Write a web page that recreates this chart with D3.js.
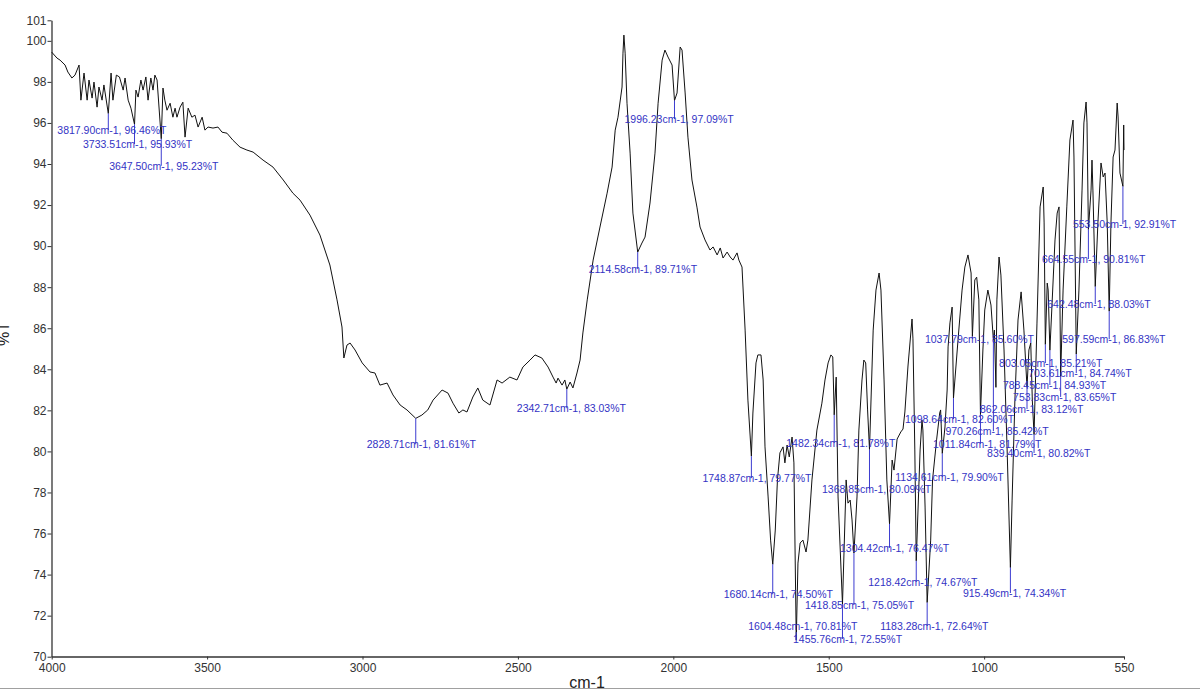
<!DOCTYPE html>
<html><head><meta charset="utf-8">
<script src="https://cdn.jsdelivr.net/npm/d3@7"></script>
<style>
body{margin:0;background:#fff}
svg{display:block}
text{font-family:"Liberation Sans", Arial, sans-serif}
</style>
</head><body>
<svg id="chart" width="1200" height="690"></svg>
<script>
// ---------- data ----------
const wavenumbers = [
4000,3983,3973,3957,3948,3935,3925,3912,3906,3896,3886,3880,3870,3864,3854,3848,3838,3832,3817.90,
3809,3803,3792,3782,3770,3764,3754,3745,3733.51,3729,3722,3713,3706,3697,3690,3681,3674,3668,3661,3647.50,
3642,3636,3629,3619,3610,3603,3597,3587,3578,3571,3561,3549,3539,3529,3516,3507,3497,3481,3465,3452,3436,
3417,3394,3372,3352,3320,3288,3255,3224,3201,3169,3137,3105,3082,3066,3060,3050,3040,3024,3001,2976,2960,
2944,2921,2902,2879,2857,2828.71,2809,2790,2773,2744,2725,2709,2690,2677,2664,2645,2629,2613,2590,2567,2551,
2526,2503,2484,2461,2445,2423,2403,2387,2377,2371,2358,2349,2342.71,2332,2323,2310,2300,2291,2277,2258,2236,
2213,2197,2187,2178,2165,2162,2159,2155,2149,2139,2130,2114.58,2101,2091,2075,2059,2049,2036,2027,2017,2004,
1996.23,1988,1978,1972,1962,1953,1940,1924,1914,1898,1882,1872,1859,1849,1840,1827,1817,1808,1795,1789,1779,
1769,1760,1748.87,1744,1734,1728,1718,1711,1705,1695,1687,1680.14,1672,1665,1657,1647,1641,1634,1627,1618,1612,
1604.48,1599,1592,1583,1573,1567,1554,1538,1522,1512,1502,1493,1487,1482.34,1476,1470,1455.76,1444,1438,1431,
1425,1418.85,1409,1403,1393,1387,1381,1375,1368.85,1357,1348,1338,1332,1322,1313,1304.42,1296,1290,1280,1268,
1261,1255,1245,1232,1229,1223,1218.42,1206,1200,1197,1190,1183.28,1172,1166,1153,1143,1140,1134.61,1126,1119,
1116,1110,1103,1098.64,1084,1071,1062,1052,1042,1037.79,1030,1024,1017,1011.84,1004,998,988,978,970.26,967,
962.06,959,952,946,936,926,915.49,910,901,891,881,872,862.06,856,850,845,839.40,830,820,810,807,803.05,797,794,
788.45,782,772,765,759,753.83,746,734,724,714,711,703.61,695,685,679,672,669,664.55,656,653,650,642.48,634,624,
617,611,604,597.59,592,585,579,572,569,563,553.50,551,550
];
const transmittance = [
99.45,99.16,99.06,98.82,98.48,98.19,98.33,98.82,97.11,98.43,97.11,98.09,97.21,97.99,96.77,97.75,97.11,97.85,96.46,
98.43,97.11,98.33,98.24,97.60,98.19,97.11,96.72,95.93,97.60,97.26,98.09,97.60,98.24,97.11,98.19,97.60,98.33,98.09,95.23,
97.70,97.11,96.62,96.96,96.28,96.72,96.28,96.77,97.01,95.31,96.72,96.28,96.38,95.80,96.28,95.65,95.80,95.75,95.80,95.55,95.50,
95.16,94.82,94.68,94.58,94.19,93.85,93.22,92.58,92.24,91.51,90.54,89.08,87.38,86.06,84.55,85.18,85.28,84.94,84.31,83.87,83.82,
83.23,83.33,82.75,82.26,82.02,81.61,81.77,82.02,82.50,82.99,82.84,82.35,81.87,82.02,81.92,82.65,83.09,82.50,82.26,83.48,83.33,
83.62,83.48,84.11,84.45,84.70,84.55,84.11,83.62,83.33,83.57,83.23,83.48,83.03,83.38,83.09,83.82,84.45,85.77,87.38,89.32,90.93,
92.58,93.85,95.65,96.28,97.75,99.40,100.28,99.40,96.96,94.53,91.61,89.71,90.15,90.44,92.10,94.53,96.96,99.06,99.55,99.21,98.82,
97.09,97.46,99.70,99.55,97.46,95.31,93.22,91.90,90.93,90.30,89.81,89.96,89.57,89.91,89.42,89.71,89.47,89.32,89.67,89.32,88.98,
85.91,82.50,79.77,81.87,84.31,84.70,84.70,83.48,80.22,77.78,75.68,74.50,76.17,78.61,79.93,80.22,79.44,80.31,79.73,80.70,79.44,
70.81,74.56,75.54,75.68,75.10,75.68,78.61,81.04,82.35,83.48,84.31,84.70,84.60,81.78,83.62,77.78,72.55,78.61,77.48,77.63,
76.66,75.05,77.78,81.04,83.48,84.45,84.31,82.02,80.09,85.91,87.86,88.69,87.86,83.48,78.61,76.47,79.58,79.09,80.60,80.95,
81.09,81.92,84.16,86.45,85.48,80.07,74.67,80.07,81.53,81.04,77.29,72.64,75.68,78.61,80.56,81.87,82.02,79.90,81.19,82.99,
85.09,86.26,87.03,82.60,85.43,87.86,88.98,89.57,88.69,85.60,88.35,88.49,87.38,81.79,84.94,86.89,87.86,87.13,85.42,85.91,
83.12,87.38,89.47,88.59,84.94,80.07,74.34,77.63,82.50,86.40,87.77,85.91,83.12,84.94,85.28,82.50,80.82,86.25,91.91,92.88,91.13,85.21,88.20,87.86,
84.93,87.03,90.30,91.61,91.91,83.65,87.86,91.91,95.17,96.14,94.34,84.74,87.86,92.73,96.00,97.02,96.00,90.81,92.73,94.19,92.73,88.03,91.13,94.05,
93.37,93.56,91.13,86.83,91.13,94.34,94.68,96.97,96.29,93.56,92.91,95.90,94.68
];

const peakWavenumbers = [3817.90,3733.51,3647.50,2828.71,2342.71,2114.58,1996.23,1748.87,1680.14,1604.48,1455.76,
  1482.34,1418.85,1368.85,1304.42,1134.61,1218.42,1183.28,1098.64,1037.79,1011.84,970.26,862.06,915.49,839.40,
  803.05,788.45,753.83,703.61,597.59,642.48,664.55,553.50];
const peakTransmittance = [96.46,95.93,95.23,81.61,83.03,89.71,97.09,79.77,74.50,70.81,72.55,
  81.78,75.05,80.09,76.47,79.90,74.67,72.64,82.60,85.60,81.79,85.42,83.12,74.34,80.82,
  85.21,84.93,83.65,84.74,86.83,88.03,90.81,92.91];

const xTickValues = [4000,3500,3000,2500,2000,1500,1000,550];
const yTickValues = [70,72,74,76,78,80,82,84,86,88,90,92,94,96,98,100,101];
const xAxisTitle = "cm-1";
const yAxisTitle = "%T";

// ---------- layout (label placement, px offsets from the peak) ----------
const labelDx = [-51,-51.5,-52,-49,-50,-49,-50,-49,-49,-48,-49.5,-48,-49,-47.5,-49.5,-47,-48,-47,-48.5,-47.5,
  -47.5,-48,-47,-47.5,-47,-46.3,-47,-47.6,-48,-47,-48,-46.4,-50];
const labelDy = [20.5,23.6,31,30,23,21,22.5,26,34,-10,38.6,32,56,43.5,28,27.5,25,27.5,25,6.6,33,95,25.7,29.4,
  22.4,22.6,38.8,24.5,23,32,21.5,33.5,41.6];

// ---------- drawing ----------
const svg = d3.select("#chart");
const x = d3.scaleLinear().domain([4000, 550]).range([51.7, 1124]);
const y = d3.scaleLinear().domain([70, 101]).range([656.7, 20.3]);

// bottom window border
svg.append("line").attr("x1",0).attr("x2",1200).attr("y1",688.5).attr("y2",688.5)
  .attr("stroke","#a0a0a0").attr("stroke-width",1);

const yAxis = svg.append("g").attr("transform","translate(51.5,0)")
  .call(d3.axisLeft(y).tickValues(yTickValues).tickSize(4).tickSizeOuter(0).tickPadding(1).tickFormat(d3.format("d")));
const xAxis = svg.append("g").attr("transform","translate(0,656.5)")
  .call(d3.axisBottom(x).tickValues(xTickValues).tickSize(3).tickSizeOuter(0).tickPadding(4).tickFormat(d3.format("d")));
[yAxis, xAxis].forEach(g => {
  g.selectAll("path.domain").attr("stroke","#333").attr("stroke-width",1.3);
  g.selectAll(".tick line").attr("stroke","#333");
  g.selectAll("text").attr("fill","#333").style("font-size","12px").style("font-family","'Liberation Sans', Arial, sans-serif");
});

svg.append("text").attr("x",587).attr("y",688).attr("text-anchor","middle")
  .style("font-size","16px").attr("fill","#222").text(xAxisTitle);
svg.append("text").attr("transform","translate(9,334) rotate(-90)").attr("text-anchor","middle")
  .style("font-size","16px").attr("fill","#222").text(yAxisTitle);

const spectrum = wavenumbers.map((w,i)=>({w, t: transmittance[i]}));
svg.append("path").datum(spectrum)
  .attr("fill","none").attr("stroke","#111").attr("stroke-width",1)
  .attr("d", d3.line().x(d=>x(d.w)).y(d=>y(d.t)));

const peaks = peakWavenumbers.map((w,i)=>({w, t: peakTransmittance[i], dx: labelDx[i], dy: labelDy[i]}));
const ann = svg.append("g");
ann.selectAll("line").data(peaks).join("line")
  .attr("x1", d=>x(d.w)).attr("x2", d=>x(d.w))
  .attr("y1", d=>y(d.t)).attr("y2", d=>y(d.t) + (d.dy > 0 ? d.dy - 4 : d.dy + 2))
  .attr("stroke","#3c3cd0").attr("stroke-width",1);
ann.selectAll("text").data(peaks).join("text")
  .attr("x", d=>x(d.w)+d.dx).attr("y", d=>y(d.t)+d.dy)
  .attr("fill","#3333c4").style("font-size","10.5px")
  .text(d=>`${d.w.toFixed(2)}cm-1, ${d.t.toFixed(2)}%T`);
</script>
</body></html>
